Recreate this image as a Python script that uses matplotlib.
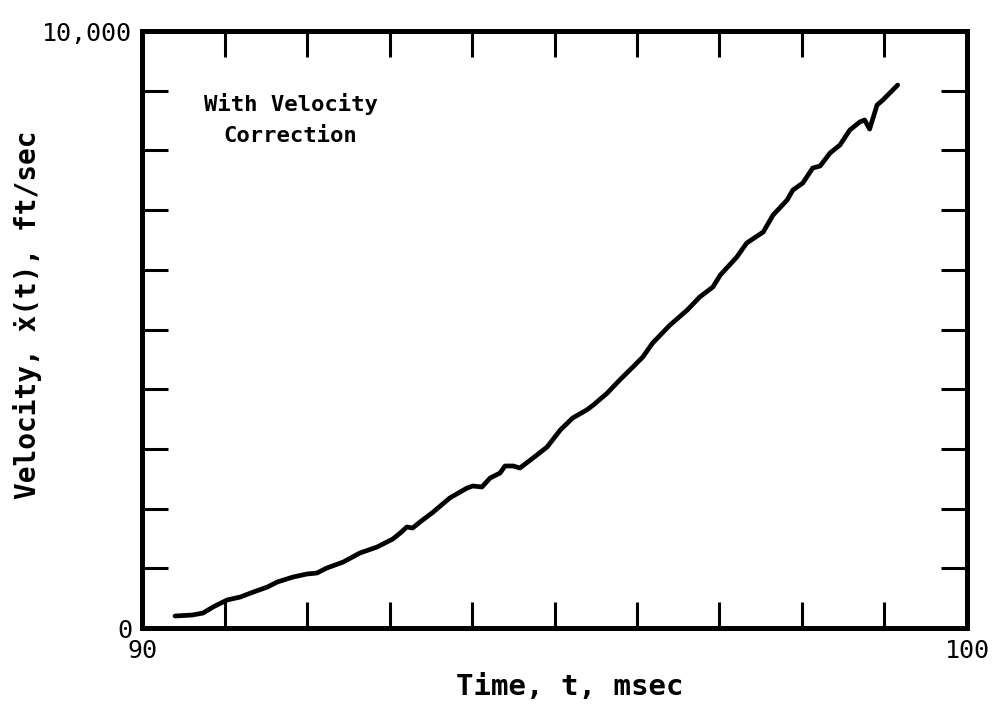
import matplotlib
matplotlib.use("Agg")
import matplotlib.pyplot as plt

time_ms = [90.40, 90.61, 90.74, 90.86, 91.03, 91.19, 91.35, 91.52, 91.64, 91.83,
           92.00, 92.12, 92.24, 92.44, 92.64, 92.85, 93.04, 93.13, 93.21, 93.28,
           93.37, 93.53, 93.73, 93.94, 94.01, 94.12, 94.22, 94.34, 94.40, 94.50,
           94.58, 94.74, 94.91, 95.07, 95.22, 95.39, 95.47, 95.64, 95.79, 95.95,
           96.07, 96.19, 96.40, 96.61, 96.76, 96.92, 97.01, 97.21, 97.33, 97.53,
           97.65, 97.82, 97.89, 98.01, 98.13, 98.22, 98.34, 98.46, 98.58, 98.70,
           98.76, 98.82, 98.91, 98.98, 99.16]
velocity = [201, 218, 251, 352, 469, 519, 603, 687, 771, 854,
            905, 921, 1005, 1106, 1256, 1357, 1491, 1591, 1692, 1675,
            1776, 1943, 2178, 2345, 2379, 2362, 2513, 2596, 2714, 2714,
            2680, 2848, 3032, 3317, 3518, 3652, 3735, 3936, 4154, 4372,
            4539, 4774, 5075, 5327, 5544, 5712, 5913, 6214, 6449, 6633,
            6918, 7169, 7337, 7454, 7705, 7739, 7956, 8090, 8342, 8476,
            8509, 8358, 8760, 8844, 9095]

x_major = [90, 100]
x_major_labels = ["90", "100"]
x_minor = [91, 92, 93, 94, 95, 96, 97, 98, 99]
y_major = [0, 10000]
y_major_labels = ["0", "10,000"]
y_minor = [1000, 2000, 3000, 4000, 5000, 6000, 7000, 8000, 9000]

mono = "DejaVu Sans Mono"

fig = plt.figure(figsize=(9.94, 7.05), dpi=100)
ax = fig.add_axes([0.1429, 0.1092, 0.8299, 0.8468])

ax.plot(time_ms, velocity, color="black", lw=3.4, solid_joinstyle="round",
        solid_capstyle="round")

ax.set_xlim(90, 100)
ax.set_ylim(0, 10000)

for s in ax.spines.values():
    s.set_linewidth(3.6)
    s.set_color("black")

ax.set_xticks(x_major)
ax.set_xticklabels(x_major_labels, family=mono, fontsize=18)
ax.set_xticks(x_minor, minor=True)
ax.set_yticks(y_major)
ax.set_yticklabels(y_major_labels, family=mono, fontsize=18)
ax.set_yticks(y_minor, minor=True)

ax.tick_params(axis="x", which="major", length=0, pad=8)
ax.tick_params(axis="y", which="major", length=0, pad=7)
ax.tick_params(axis="both", which="minor", direction="in", length=19, width=2.2,
               top=True, right=True, color="black")

ax.set_xlabel("Time, t, msec", family=mono, fontweight="bold", fontsize=21)
ax.xaxis.set_label_coords(0.519, -0.075)
ax.set_ylabel("Velocity, \u1e8b(t), ft/sec", family=mono, fontweight="bold",
              fontsize=20)
ax.yaxis.set_label_coords(-0.121, 0.524)

ax.text(0.18, 0.852, "With Velocity\nCorrection", transform=ax.transAxes,
        ha="center", va="center", family=mono, fontweight="bold", fontsize=16,
        linespacing=1.7)

fig.savefig("out.png", dpi=100, facecolor="white")
